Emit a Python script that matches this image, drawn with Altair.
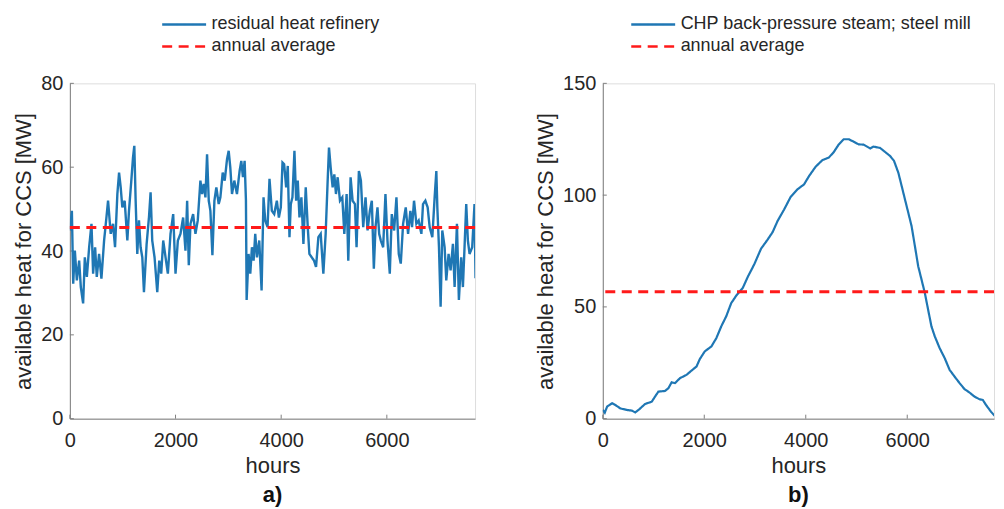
import altair as alt
import pandas as pd

# ---------------- data ----------------
left_name = "residual heat refinery"
right_name = "CHP back-pressure steam; steel mill"
avg_name = "annual average"

left_hours = [0, 38, 63, 94, 132, 176, 207, 251, 283, 321,
              365, 409, 440, 478, 509, 553, 597, 648, 692, 723,
              773, 817, 855, 899, 931, 962, 993, 1037, 1088, 1119,
              1163, 1195, 1220, 1245, 1276, 1308, 1339, 1371, 1402, 1453,
              1497, 1528, 1559, 1603, 1654, 1692, 1729, 1767, 1811, 1855,
              1905, 1956, 2000, 2044, 2094, 2144, 2188, 2220, 2251, 2283,
              2333, 2377, 2421, 2471, 2503, 2534, 2566, 2597, 2629, 2660,
              2698, 2736, 2773, 2817, 2849, 2893, 2931, 2975, 3006, 3037,
              3069, 3113, 3163, 3213, 3245, 3276, 3308, 3333, 3346, 3383,
              3415, 3446, 3478, 3509, 3541, 3585, 3629, 3666, 3698, 3742,
              3779, 3823, 3868, 3918, 3956, 3993, 4025, 4056, 4094, 4125,
              4157, 4182, 4213, 4251, 4283, 4314, 4346, 4383, 4421, 4465,
              4503, 4534, 4578, 4622, 4660, 4704, 4748, 4798, 4842, 4880,
              4905, 4937, 4974, 5006, 5037, 5069, 5113, 5157, 5195, 5239,
              5270, 5314, 5352, 5396, 5427, 5471, 5509, 5553, 5597, 5635,
              5679, 5716, 5754, 5786, 5823, 5855, 5886, 5930, 5974, 6012,
              6056, 6094, 6138, 6182, 6226, 6264, 6308, 6358, 6402, 6446,
              6477, 6515, 6559, 6603, 6654, 6685, 6729, 6773, 6811, 6861,
              6905, 6937, 6956, 6987, 7018, 7050, 7094, 7125, 7169, 7207,
              7251, 7283, 7327, 7364, 7408, 7440, 7471, 7503, 7534, 7566,
              7616, 7660, 7679]
left_values = [44.9, 49.6, 32.2, 40.1, 33.0, 37.7, 31.4, 27.5, 38.5, 33.8,
               40.9, 46.5, 34.6, 40.9, 33.8, 39.3, 33.4, 42.5, 48.0, 52.0,
               44.1, 46.5, 40.9, 53.6, 58.7, 55.2, 50.4, 52.0, 42.5, 49.6,
               56.8, 62.3, 65.1, 52.0, 39.3, 47.3, 40.9, 38.5, 30.2, 41.7,
               48.0, 54.0, 42.5, 38.5, 30.2, 37.7, 34.6, 42.5, 38.5, 34.6,
               44.1, 48.8, 34.6, 42.5, 44.1, 48.0, 40.1, 52.0, 36.6, 46.5,
               48.8, 44.1, 47.3, 56.8, 53.6, 56.0, 52.8, 63.1, 52.0, 49.6,
               39.0, 52.0, 55.2, 51.2, 52.8, 58.7, 56.8, 61.9, 63.9, 59.9,
               53.6, 56.8, 53.6, 59.1, 61.5, 57.6, 61.5, 52.0, 28.3, 39.3,
               34.6, 40.9, 37.7, 44.1, 38.5, 42.5, 30.6, 52.8, 47.3, 45.7,
               57.2, 49.6, 48.8, 52.0, 48.0, 50.4, 61.1, 60.7, 55.2, 60.3,
               43.3, 51.2, 52.8, 63.9, 52.0, 56.8, 48.0, 52.8, 41.7, 55.2,
               45.7, 39.3, 38.5, 37.7, 36.2, 43.3, 44.1, 34.6, 44.1, 56.8,
               64.7, 59.9, 55.2, 58.3, 53.6, 57.6, 52.0, 52.8, 44.1, 53.6,
               37.7, 57.6, 52.0, 51.2, 40.9, 59.1, 56.8, 45.7, 52.8, 44.9,
               49.6, 52.0, 35.8, 45.7, 50.4, 44.1, 42.5, 40.9, 53.6, 42.5,
               34.6, 48.8, 44.9, 52.8, 39.3, 37.0, 46.5, 50.4, 44.1, 49.6,
               45.7, 52.0, 46.5, 47.3, 44.1, 51.2, 52.0, 50.4, 45.7, 43.3,
               52.8, 59.1, 50.4, 40.9, 26.7, 44.9, 40.9, 33.0, 39.3, 35.4,
               41.7, 31.4, 46.5, 28.3, 38.5, 31.4, 40.9, 51.2, 42.5, 39.3,
               40.9, 51.2, 33.5]
left_average = 45.6

right_hours = [0, 39, 85, 183, 248, 346, 476, 574, 639, 704,
               835, 965, 1030, 1096, 1226, 1292, 1357, 1422, 1520, 1650,
               1748, 1846, 1911, 2009, 2140, 2237, 2335, 2433, 2531, 2629,
               2759, 2857, 2988, 3118, 3248, 3346, 3444, 3574, 3705, 3836,
               3966, 4064, 4194, 4325, 4455, 4553, 4651, 4749, 4847, 4945,
               5042, 5140, 5270, 5336, 5466, 5564, 5662, 5740, 5825, 5890,
               5955, 6021, 6086, 6151, 6216, 6282, 6347, 6412, 6477, 6543,
               6640, 6738, 6836, 6934, 7032, 7130, 7227, 7325, 7423, 7488,
               7554, 7651, 7749, 7814]
right_values = [3.9, 2.7, 5.4, 6.9, 6.1, 4.6, 3.9, 3.6, 2.8, 3.9,
                6.6, 7.6, 9.9, 12.1, 12.4, 13.6, 16.3, 15.9, 18.1, 19.6,
                21.5, 23.3, 26.6, 30.1, 32.3, 36.0, 41.3, 45.8, 51.7, 55.0,
                58.5, 63.4, 69.2, 76.0, 80.1, 83.4, 88.4, 93.6, 99.3, 102.6,
                104.8, 108.5, 112.7, 115.6, 116.8, 119.3, 122.7, 125.0, 125.0, 123.9,
                122.7, 122.6, 120.9, 121.7, 121.1, 119.3, 117.5, 115.3, 110.0, 104.1,
                98.1, 92.1, 86.1, 77.2, 68.2, 62.2, 56.2, 48.7, 41.3, 36.8,
                31.5, 27.1, 21.8, 18.8, 15.9, 13.2, 11.7, 9.9, 8.7, 8.4,
                6.1, 3.1, 0.6, 0.2]
right_average = 56.8

x_ticks = [0, 2000, 4000, 6000]
left_y_ticks = [0, 20, 40, 60, 80]
right_y_ticks = [0, 50, 100, 150]

# ---------------- style ----------------
FONT = "Liberation Sans"
TXT = "#262626"
AXC = "#808080"
BLUE = "#1F77B4"
RED = "#FF1A1A"
H = 336


def panel(hours, values, avg, name, xmax, ymax, yticks, width, legend_x, label,
          line_width):
    df = pd.DataFrame({"hours": hours, "value": values, "series": name})
    avg_df = pd.DataFrame({"value": [avg], "series": [avg_name]})
    xs = alt.Scale(domain=[0, xmax], nice=False, zero=False)
    ys = alt.Scale(domain=[0, ymax], nice=False)
    xaxis = alt.Axis(values=x_ticks, format="d", title="hours", grid=False,
                     ticks=False, tickSize=0, domainColor=AXC, domainWidth=1,
                     labelFont=FONT, labelFontSize=20, labelColor=TXT,
                     labelPadding=12, labelFlush=False,
                     titleFont=FONT, titleFontSize=22, titleColor=TXT,
                     titleFontWeight="normal", titlePadding=5)
    yaxis = alt.Axis(values=yticks, format="d",
                     title="available heat for CCS [MW]", grid=False,
                     ticks=False, tickSize=0, domainColor=AXC, domainWidth=1,
                     labelFont=FONT, labelFontSize=20, labelColor=TXT,
                     labelPadding=7, labelFlush=False,
                     titleFont=FONT, titleFontSize=22, titleColor=TXT,
                     titleFontWeight="normal", titlePadding=5)
    leg = alt.Legend(title=None, orient="none", legendX=legend_x, legendY=-70,
                     symbolType="stroke", symbolSize=1936, symbolStrokeWidth=2.6,
                     labelFont=FONT, labelFontSize=18, labelColor=TXT,
                     labelOffset=4, clipHeight=22, padding=0, rowPadding=0,
                     labelLimit=500)
    color = alt.Color("series:N", scale=alt.Scale(domain=[name, avg_name],
                                                  range=[BLUE, RED]), legend=leg)
    dash = alt.StrokeDash("series:N", scale=alt.Scale(domain=[name, avg_name],
                                                      range=[[1, 0], [10, 6.5]]),
                          legend=leg)
    line = alt.Chart(df).mark_line(strokeWidth=line_width, clip=True).encode(
        x=alt.X("hours:Q", scale=xs, axis=xaxis),
        y=alt.Y("value:Q", scale=ys, axis=yaxis),
        color=color, strokeDash=dash)
    rule = alt.Chart(avg_df).mark_rule(strokeWidth=3).encode(
        y=alt.Y("value:Q", scale=ys, axis=yaxis),
        color=color, strokeDash=dash)
    xt = alt.Chart(pd.DataFrame({"hours": x_ticks})).mark_rule(
        color=AXC, strokeWidth=1).encode(
        x=alt.X("hours:Q", scale=xs, axis=xaxis),
        y=alt.value(H), y2=alt.value(H - 4))
    yt = alt.Chart(pd.DataFrame({"value": yticks})).mark_rule(
        color=AXC, strokeWidth=1).encode(
        y=alt.Y("value:Q", scale=ys, axis=yaxis),
        x=alt.value(0), x2=alt.value(4))
    return alt.layer(xt, yt, line, rule).properties(
        width=width, height=H,
        title=alt.TitleParams(text=label, orient="bottom", anchor="middle",
                              font=FONT, fontSize=22, fontWeight="bold",
                              color="#111111", offset=8))


left = panel(left_hours, left_values, left_average, left_name,
             7670, 80, left_y_ticks, 406, 91, "a)", 2.4)
right = panel(right_hours, right_values, right_average, right_name,
              7710, 150, right_y_ticks, 392, 27, "b)", 2.2)

chart = alt.hconcat(left, right, spacing=128, bounds="flush").resolve_scale(
    color="independent", strokeDash="independent",
    x="independent", y="independent").resolve_legend(
    color="independent", strokeDash="independent").properties(
    padding={"left": 4, "top": 4, "right": 0, "bottom": 2}
).configure_view(stroke=None).configure(background="white")

chart.save("out.html", embed_options={"renderer": "svg", "actions": False})
